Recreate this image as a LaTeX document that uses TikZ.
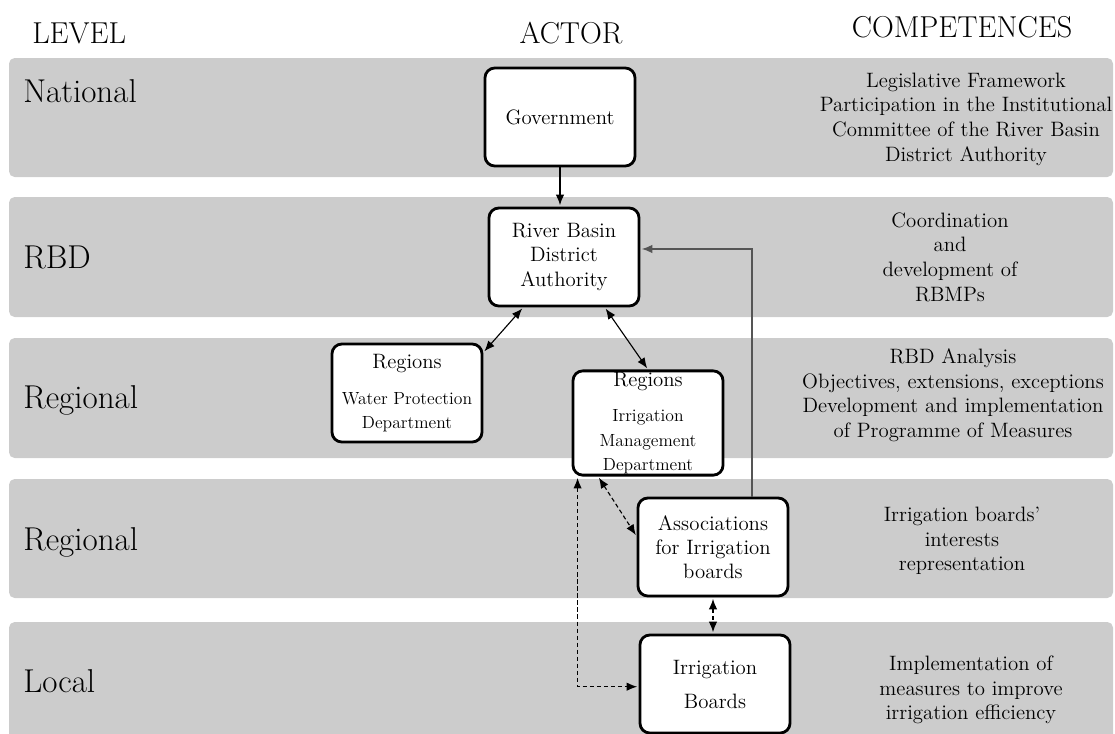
\documentclass[tikz,border=0pt]{standalone}
\usepackage{tikz}
\usetikzlibrary{calc}
\usetikzlibrary{arrows.meta}
\definecolor{bandgray}{RGB}{204, 204, 204}
\definecolor{linkgray}{RGB}{85, 85, 85}
\newcommand{\subtext}{\fontsize{12.5}{14}\selectfont}
\tikzset{
  band/.style={fill=bandgray, draw=none, rounded corners=4pt},
  head/.style={font=\fontsize{21.5}{25}\selectfont, inner sep=0pt},
  lvl/.style={font=\fontsize{23.5}{27}\selectfont, anchor=base west, inner sep=0pt},
  comp/.style={font=\fontsize{14.8}{17.5}\selectfont, align=center, inner sep=0pt},
  actor/.style={draw, fill=white, line width=2pt, rounded corners=7pt,
                minimum width=3.75cm, minimum height=2.45cm, inner sep=1pt,
                align=center, font=\fontsize{14.8}{17.2}\selectfont},
  tip/.tip={Latex[length=7.5pt,width=6pt]},
  link/.style={line width=0.8pt, -tip, shorten >=1pt},
  duolink/.style={line width=0.8pt, tip-tip, shorten >=1pt, shorten <=1pt},
  dashlink/.style={duolink, dash pattern=on 3pt off 2pt},
}

\begin{document}
\begin{tikzpicture}[x=0.025cm, y=-0.025cm]
            \useasboundingbox (0,0) rectangle (1115,733);
            % level bands
            \foreach \top/\bot in {58/177, 197/317, 338/458, 479/598, 622/745}
                \filldraw[band] (9,\top) rectangle (1113,\bot);

            % column heads
            \node[head, anchor=base west] (hdlevel) at (32,43)  {LEVEL};
            \node[head, anchor=base]      (hdactor) at (571,43) {ACTOR};
            \node[head, anchor=base]      (hdcomp)  at (962,37) {COMPETENCES};

            % levels
            \node[lvl] (lvlnat)  at (23,102) {National};
            \node[lvl] (lvlrbd)  at (23,268) {RBD};
            \node[lvl] (lvlreg)  at (23,408) {Regional};
            \node[lvl] (lvlregb) at (23,550) {Regional};
            \node[lvl] (lvlloc)  at (23,692) {Local};

            % actors
            \node[actor] (gov)   at (560,117) {Government};
            \node[actor] (rbda)  at (564,257) {River Basin\\District\\Authority};
            \node[actor] (wpd)   at (407,393) {Regions\\[8pt]\subtext Water Protection\\\subtext Department};
            \node[actor] (imd)   at (648,423) {Regions\\[8pt]\subtext Irrigation\\\subtext Management\\\subtext Department};
            \node[actor] (assoc) at (713,547) {Associations\\for Irrigation\\boards};
            \node[actor] (ib)    at (715,684) {Irrigation\\[7pt]Boards};

            % competences
            \node[comp] (compnat)  at (966,119) {Legislative Framework\\Participation in the Institutional\\Committee of the River Basin\\District Authority};
            \node[comp] (comprbd)  at (950,257) {Coordination\\and\\development of\\RBMPs};
            \node[comp] (compreg)  at (953,395) {RBD Analysis\\Objectives, extensions, exceptions\\Development and implementation\\of Programme of Measures};
            \node[comp] (compregb) at (962,541) {Irrigation boards'\\interests\\representation};
            \node[comp] (comploc)  at (971,690) {Implementation of\\measures to improve\\irrigation efficiency};

            % links
            \draw[link] (gov.south) -- (gov.south |- rbda.north);
            \draw[duolink] (rbda.231) -- (wpd.28);
            \draw[duolink] (rbda.309) -- (imd.north);
            \draw[link, linkgray] ($(assoc.north)+(39,0)$) |- (rbda.6);
            \draw[dashlink] (imd.227) -- (assoc.172);
            \draw[dashlink] ($(imd.south west)+(6,0)$) |- (ib.182);
            \draw[dashlink] (assoc.south) -- (assoc.south |- ib.north);
\end{tikzpicture}
\end{document}
